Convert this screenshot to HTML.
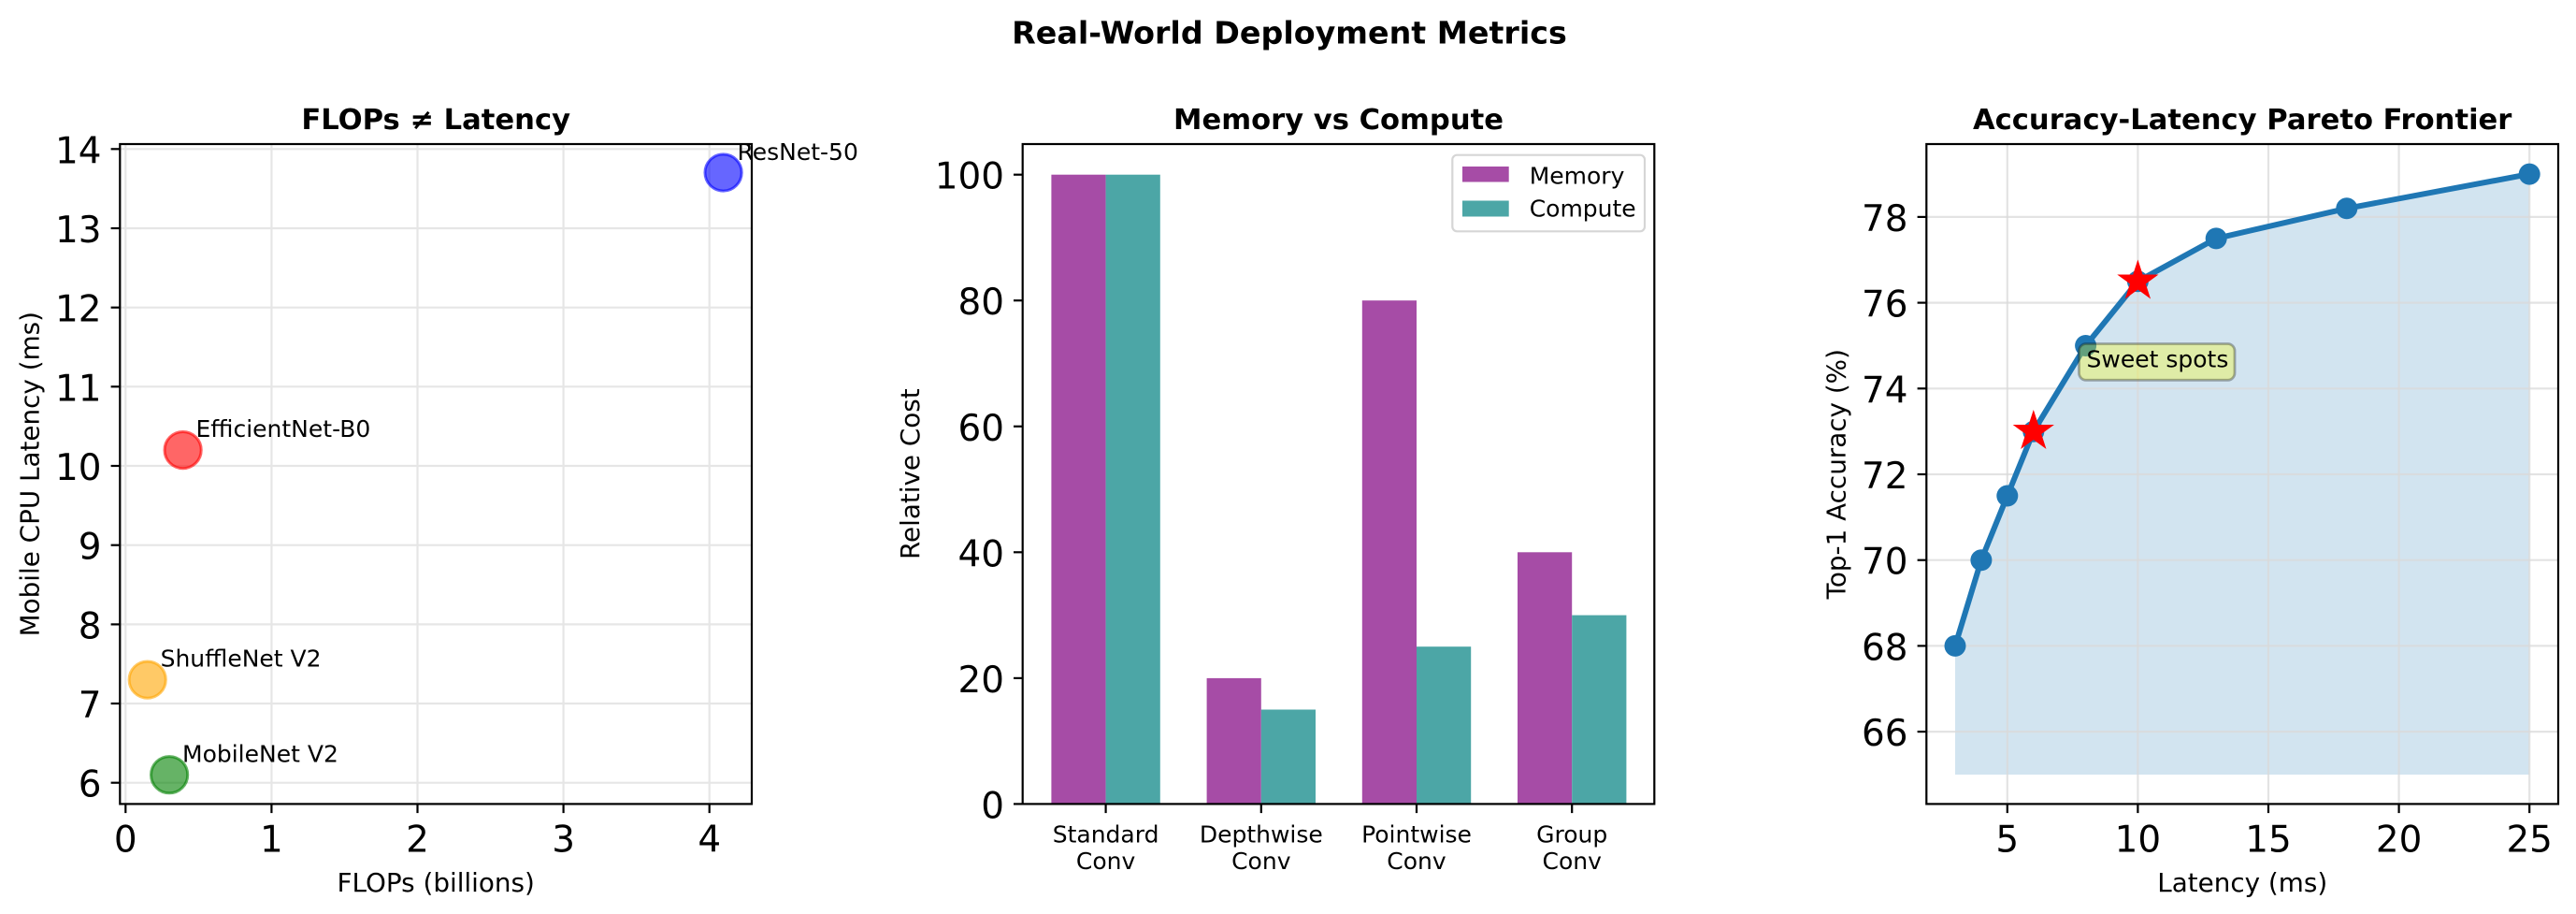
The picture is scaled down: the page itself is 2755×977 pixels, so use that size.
<!DOCTYPE html>
<html>
<head>
<meta charset="utf-8">
<style>
html,body{margin:0;padding:0;background:#fff;}
svg{display:block;}
text{font-family:"DejaVu Sans","Liberation Sans",sans-serif;fill:#000;}
.tk{font-size:38.9px;}
.lb{font-size:27.8px;}
.an{font-size:25px;}
.tt{font-size:30.6px;font-weight:bold;}
.grid{stroke:#e6e6e6;stroke-width:2.2;}
.tick{stroke:#000;stroke-width:2.2;}
</style>
</head>
<body>
<svg width="2755" height="977" viewBox="0 0 2755 977" xmlns="http://www.w3.org/2000/svg">
<rect width="2755" height="977" fill="#fff"/>

<!-- Suptitle -->
<text x="1379" y="46.5" text-anchor="middle" style="font-size:33.3px;font-weight:bold;">Real-World Deployment Metrics</text>

<!-- ================= Panel 1 ================= -->
<g>
  <g class="grid">
    <line x1="134.3" y1="154" x2="134.3" y2="859.4"/>
    <line x1="290.4" y1="154" x2="290.4" y2="859.4"/>
    <line x1="446.5" y1="154" x2="446.5" y2="859.4"/>
    <line x1="602.6" y1="154" x2="602.6" y2="859.4"/>
    <line x1="758.7" y1="154" x2="758.7" y2="859.4"/>
    <line x1="128.3" y1="836.7" x2="804" y2="836.7"/>
    <line x1="128.3" y1="752.0" x2="804" y2="752.0"/>
    <line x1="128.3" y1="667.4" x2="804" y2="667.4"/>
    <line x1="128.3" y1="582.7" x2="804" y2="582.7"/>
    <line x1="128.3" y1="498.0" x2="804" y2="498.0"/>
    <line x1="128.3" y1="413.3" x2="804" y2="413.3"/>
    <line x1="128.3" y1="328.7" x2="804" y2="328.7"/>
    <line x1="128.3" y1="244.0" x2="804" y2="244.0"/>
    <line x1="128.3" y1="159.3" x2="804" y2="159.3"/>
  </g>
  <circle cx="181.1" cy="828.2" r="19.6" fill="#008000" fill-opacity="0.6" stroke="#008000" stroke-opacity="0.6" stroke-width="3"/>
  <circle cx="157.7" cy="726.6" r="19.6" fill="#ffa500" fill-opacity="0.6" stroke="#ffa500" stroke-opacity="0.6" stroke-width="3"/>
  <circle cx="195.6" cy="481.1" r="19.6" fill="#ff0000" fill-opacity="0.6" stroke="#ff0000" stroke-opacity="0.6" stroke-width="3"/>
  <circle cx="773.6" cy="184.5" r="19.6" fill="#0000ff" fill-opacity="0.6" stroke="#0000ff" stroke-opacity="0.6" stroke-width="3"/>
  <text class="an" x="195" y="814.3">MobileNet V2</text>
  <text class="an" x="171.6" y="712.7">ShuffleNet V2</text>
  <text class="an" x="209.5" y="467.2">EfficientNet-B0</text>
  <text class="an" x="788.5" y="171">ResNet-50</text>
  <rect x="128.3" y="154" width="675.7" height="705.4" fill="none" stroke="#000" stroke-width="2.2"/>
  <g class="tick">
    <line x1="134.3" y1="859.4" x2="134.3" y2="869.1"/>
    <line x1="290.4" y1="859.4" x2="290.4" y2="869.1"/>
    <line x1="446.5" y1="859.4" x2="446.5" y2="869.1"/>
    <line x1="602.6" y1="859.4" x2="602.6" y2="869.1"/>
    <line x1="758.7" y1="859.4" x2="758.7" y2="869.1"/>
    <line x1="118.6" y1="836.7" x2="128.3" y2="836.7"/>
    <line x1="118.6" y1="752.0" x2="128.3" y2="752.0"/>
    <line x1="118.6" y1="667.4" x2="128.3" y2="667.4"/>
    <line x1="118.6" y1="582.7" x2="128.3" y2="582.7"/>
    <line x1="118.6" y1="498.0" x2="128.3" y2="498.0"/>
    <line x1="118.6" y1="413.3" x2="128.3" y2="413.3"/>
    <line x1="118.6" y1="328.7" x2="128.3" y2="328.7"/>
    <line x1="118.6" y1="244.0" x2="128.3" y2="244.0"/>
    <line x1="118.6" y1="159.3" x2="128.3" y2="159.3"/>
  </g>
  <g class="tk" text-anchor="middle">
    <text x="134.3" y="910.5">0</text>
    <text x="290.4" y="910.5">1</text>
    <text x="446.5" y="910.5">2</text>
    <text x="602.6" y="910.5">3</text>
    <text x="758.7" y="910.5">4</text>
  </g>
  <g class="tk" text-anchor="end">
    <text x="108.5" y="851.7">6</text>
    <text x="108.5" y="767.0">7</text>
    <text x="108.5" y="682.4">8</text>
    <text x="108.5" y="597.7">9</text>
    <text x="108.5" y="513.0">10</text>
    <text x="108.5" y="428.3">11</text>
    <text x="108.5" y="343.7">12</text>
    <text x="108.5" y="259.0">13</text>
    <text x="108.5" y="174.3">14</text>
  </g>
  <text class="lb" x="466.2" y="953" text-anchor="middle">FLOPs (billions)</text>
  <text class="lb" transform="translate(41.7,506.7) rotate(-90)" text-anchor="middle">Mobile CPU Latency (ms)</text>
  <text class="tt" x="466.2" y="138" text-anchor="middle">FLOPs ≠ Latency</text>
</g>

<!-- ================= Panel 2 ================= -->
<g>
  <g fill="#a64ca6">
    <rect x="1124.4" y="186.7" width="58.2" height="672.7"/>
    <rect x="1290.6" y="724.9" width="58.2" height="134.5"/>
    <rect x="1456.8" y="321.2" width="58.2" height="538.2"/>
    <rect x="1623.0" y="590.3" width="58.2" height="269.1"/>
  </g>
  <g fill="#4ca6a6">
    <rect x="1182.6" y="186.7" width="58.2" height="672.7"/>
    <rect x="1348.8" y="758.5" width="58.2" height="100.9"/>
    <rect x="1515.0" y="691.2" width="58.2" height="168.2"/>
    <rect x="1681.2" y="657.6" width="58.2" height="201.8"/>
  </g>
  <rect x="1553.3" y="165.7" width="205.7" height="81.6" rx="5" ry="5" fill="#fff" fill-opacity="0.8" stroke="#d6d6d6" stroke-width="2.2"/>
  <rect x="1564" y="178" width="49.7" height="16.5" fill="#a64ca6"/>
  <rect x="1564" y="214.5" width="49.7" height="17" fill="#4ca6a6"/>
  <text class="an" x="1635.7" y="196.5">Memory</text>
  <text class="an" x="1635.7" y="231.5">Compute</text>
  <rect x="1093.7" y="154" width="675.6" height="705.4" fill="none" stroke="#000" stroke-width="2.2"/>
  <g class="tick">
    <line x1="1182.6" y1="859.4" x2="1182.6" y2="869.1"/>
    <line x1="1348.8" y1="859.4" x2="1348.8" y2="869.1"/>
    <line x1="1515.0" y1="859.4" x2="1515.0" y2="869.1"/>
    <line x1="1681.2" y1="859.4" x2="1681.2" y2="869.1"/>
    <line x1="1084" y1="859.4" x2="1093.7" y2="859.4"/>
    <line x1="1084" y1="724.9" x2="1093.7" y2="724.9"/>
    <line x1="1084" y1="590.3" x2="1093.7" y2="590.3"/>
    <line x1="1084" y1="455.8" x2="1093.7" y2="455.8"/>
    <line x1="1084" y1="321.2" x2="1093.7" y2="321.2"/>
    <line x1="1084" y1="186.7" x2="1093.7" y2="186.7"/>
  </g>
  <g class="an" text-anchor="middle">
    <text x="1182.6" y="900.5">Standard</text>
    <text x="1182.6" y="929">Conv</text>
    <text x="1348.8" y="900.5">Depthwise</text>
    <text x="1348.8" y="929">Conv</text>
    <text x="1515.0" y="900.5">Pointwise</text>
    <text x="1515.0" y="929">Conv</text>
    <text x="1681.2" y="900.5">Group</text>
    <text x="1681.2" y="929">Conv</text>
  </g>
  <g class="tk" text-anchor="end">
    <text x="1074" y="874.4">0</text>
    <text x="1074" y="739.9">20</text>
    <text x="1074" y="605.3">40</text>
    <text x="1074" y="470.8">60</text>
    <text x="1074" y="336.2">80</text>
    <text x="1074" y="201.7">100</text>
  </g>
  <text class="lb" transform="translate(983,506.7) rotate(-90)" text-anchor="middle">Relative Cost</text>
  <text class="tt" x="1431.5" y="138" text-anchor="middle">Memory vs Compute</text>
</g>

<!-- ================= Panel 3 ================= -->
<g>
  <polygon points="2091,690.4 2118.9,598.7 2146.8,530.0 2174.8,461.2 2230.6,369.5 2286.4,300.7 2370.2,254.9 2509.8,222.8 2705.2,186.1 2705.2,828.0 2091,828.0" fill="#1f77b4" fill-opacity="0.2"/>
  <g class="grid" style="stroke:#d9d9d9;stroke-opacity:0.75">
    <line x1="2146.8" y1="154" x2="2146.8" y2="859.4"/>
    <line x1="2286.4" y1="154" x2="2286.4" y2="859.4"/>
    <line x1="2426.0" y1="154" x2="2426.0" y2="859.4"/>
    <line x1="2565.6" y1="154" x2="2565.6" y2="859.4"/>
    <line x1="2705.2" y1="154" x2="2705.2" y2="859.4"/>
    <line x1="2060.3" y1="782.1" x2="2736" y2="782.1"/>
    <line x1="2060.3" y1="690.4" x2="2736" y2="690.4"/>
    <line x1="2060.3" y1="598.7" x2="2736" y2="598.7"/>
    <line x1="2060.3" y1="507.0" x2="2736" y2="507.0"/>
    <line x1="2060.3" y1="415.3" x2="2736" y2="415.3"/>
    <line x1="2060.3" y1="323.6" x2="2736" y2="323.6"/>
    <line x1="2060.3" y1="231.9" x2="2736" y2="231.9"/>
  </g>
  <polyline points="2091,690.4 2118.9,598.7 2146.8,530.0 2174.8,461.2 2230.6,369.5 2286.4,300.7 2370.2,254.9 2509.8,222.8 2705.2,186.1" fill="none" stroke="#1f77b4" stroke-width="6" stroke-linejoin="round" stroke-linecap="round"/>
  <g fill="#1f77b4">
    <circle cx="2091" cy="690.4" r="11.5"/>
    <circle cx="2118.9" cy="598.7" r="11.5"/>
    <circle cx="2146.8" cy="530.0" r="11.5"/>
    <circle cx="2174.8" cy="461.2" r="11.5"/>
    <circle cx="2230.6" cy="369.5" r="11.5"/>
    <circle cx="2286.4" cy="300.7" r="11.5"/>
    <circle cx="2370.2" cy="254.9" r="11.5"/>
    <circle cx="2509.8" cy="222.8" r="11.5"/>
    <circle cx="2705.2" cy="186.1" r="11.5"/>
  </g>
  <g fill="#ff0000" stroke="#ff0000" stroke-width="1.5" stroke-linejoin="miter">
    <polygon transform="translate(2174.8,461.2) scale(1.06)" points="0,-19.5 4.38,-6.03 18.55,-6.03 7.08,2.30 11.46,15.78 0,7.45 -11.46,15.78 -7.08,2.30 -18.55,-6.03 -4.38,-6.03"/>
    <polygon transform="translate(2286.4,300.7) scale(1.06)" points="0,-19.5 4.38,-6.03 18.55,-6.03 7.08,2.30 11.46,15.78 0,7.45 -11.46,15.78 -7.08,2.30 -18.55,-6.03 -4.38,-6.03"/>
  </g>
  <rect x="2223.5" y="367.5" width="166.5" height="38.8" rx="7.5" ry="7.5" fill="#ffff00" fill-opacity="0.3" stroke="#000" stroke-opacity="0.3" stroke-width="2.8"/>
  <text class="an" x="2231.5" y="392.6">Sweet spots</text>
  <rect x="2060.3" y="154" width="675.7" height="705.4" fill="none" stroke="#000" stroke-width="2.2"/>
  <g class="tick">
    <line x1="2146.8" y1="859.4" x2="2146.8" y2="869.1"/>
    <line x1="2286.4" y1="859.4" x2="2286.4" y2="869.1"/>
    <line x1="2426.0" y1="859.4" x2="2426.0" y2="869.1"/>
    <line x1="2565.6" y1="859.4" x2="2565.6" y2="869.1"/>
    <line x1="2705.2" y1="859.4" x2="2705.2" y2="869.1"/>
    <line x1="2050.6" y1="782.1" x2="2060.3" y2="782.1"/>
    <line x1="2050.6" y1="690.4" x2="2060.3" y2="690.4"/>
    <line x1="2050.6" y1="598.7" x2="2060.3" y2="598.7"/>
    <line x1="2050.6" y1="507.0" x2="2060.3" y2="507.0"/>
    <line x1="2050.6" y1="415.3" x2="2060.3" y2="415.3"/>
    <line x1="2050.6" y1="323.6" x2="2060.3" y2="323.6"/>
    <line x1="2050.6" y1="231.9" x2="2060.3" y2="231.9"/>
  </g>
  <g class="tk" text-anchor="middle">
    <text x="2146.8" y="910.5">5</text>
    <text x="2286.4" y="910.5">10</text>
    <text x="2426.0" y="910.5">15</text>
    <text x="2565.6" y="910.5">20</text>
    <text x="2705.2" y="910.5">25</text>
  </g>
  <g class="tk" text-anchor="end">
    <text x="2040.5" y="797.1">66</text>
    <text x="2040.5" y="705.4">68</text>
    <text x="2040.5" y="613.7">70</text>
    <text x="2040.5" y="522.0">72</text>
    <text x="2040.5" y="430.3">74</text>
    <text x="2040.5" y="338.6">76</text>
    <text x="2040.5" y="246.9">78</text>
  </g>
  <text class="lb" x="2398.2" y="953" text-anchor="middle">Latency (ms)</text>
  <text class="lb" transform="translate(1973.5,506.7) rotate(-90)" text-anchor="middle">Top-1 Accuracy (%)</text>
  <text class="tt" x="2398.2" y="138" text-anchor="middle">Accuracy-Latency Pareto Frontier</text>
</g>
</svg>
</body>
</html>
